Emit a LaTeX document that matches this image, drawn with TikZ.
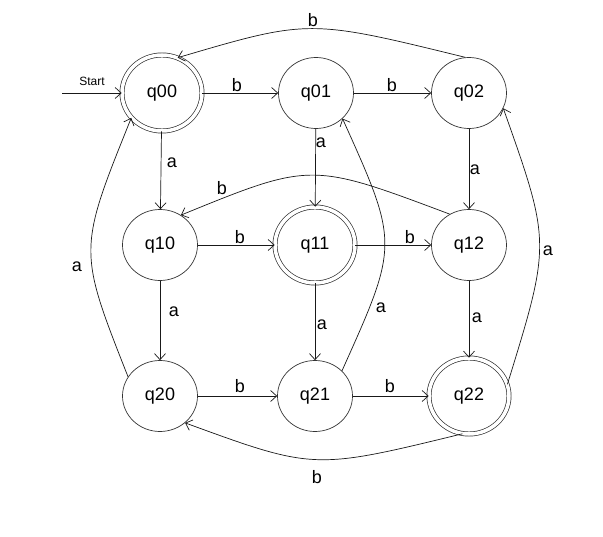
\documentclass[tikz,border=0pt]{standalone}
\usepackage{fontspec}
\setmainfont{Liberation Sans}
\usetikzlibrary{arrows.meta,shapes.geometric}
\begin{document}
\begin{tikzpicture}[x=1pt,y=-1pt,
  state/.style={ellipse,draw=black!80,line width=0.7pt,minimum width=75pt,minimum height=71pt,inner sep=0pt,font=\fontsize{18}{20}\selectfont},
  accept/.style={state,double=white,double distance=3.5pt,minimum width=80pt,minimum height=76pt},
  edge/.style={draw=black!90,line width=0.7pt,-{Straight Barb[length=6pt,width=11pt]}},
  lbl/.style={font=\fontsize{18}{20}\selectfont,inner sep=0pt}]
\useasboundingbox (0,0) rectangle (603,537);
\node[accept] (q00) at (162,93) {q00};
\node[state]  (q01) at (316,93) {q01};
\node[state]  (q02) at (469,93) {q02};
\node[state]  (q10) at (160,245) {q10};
\node[accept] (q11) at (315,245) {q11};
\node[state]  (q12) at (469,245) {q12};
\node[state]  (q20) at (160,396) {q20};
\node[state]  (q21) at (315,396) {q21};
\node[accept] (q22) at (469,396) {q22};
\coordinate (s) at (62,93);
\node[font=\fontsize{12}{14}\selectfont,inner sep=0pt] (st) at (92,81) {Start};
\draw[edge] (s) -- (q00);
% straight
\draw[edge] (q00) -- (q01);
\draw[edge] (q01) -- (q02);
\draw[edge] (q10) -- (q11);
\draw[edge] (q11) -- (q12);
\draw[edge] (q20) -- (q21);
\draw[edge] (q21) -- (q22);
\draw[edge] (q00) -- (q10);
\draw[edge] (q10) -- (q20);
\draw[edge] (q01) -- (q11);
\draw[edge] (q11) -- (q21);
\draw[edge] (q02) -- (q12);
\draw[edge] (q12) -- (q22);
% curves
\draw[edge] (q02.96) .. controls (309,19) .. (q00.66);
\draw[edge] (q12.122) .. controls (311,162) .. (q10.55);
\draw[edge] (q21.43) .. controls (399,244) .. (q01.-44);
\draw[edge] (q20.149) .. controls (78,250) .. (q00.-141);
\draw[edge] (q22.17) .. controls (551,243) .. (q02.-24);
\draw[edge] (q22.-100) .. controls (314,470) .. (q20.-47);
% labels
\node[lbl] (l1) at (313,20) {b};
\node[lbl] (l2) at (237,85) {b};
\node[lbl] (l3) at (392,85) {b};
\node[lbl] (l4) at (172,163) {a};
\node[lbl] (l5) at (321,143) {a};
\node[lbl] (l6) at (475,170) {a};
\node[lbl] (l7) at (222,188) {b};
\node[lbl] (l8) at (240,237) {b};
\node[lbl] (l9) at (410,237) {b};
\node[lbl] (l10) at (77,267) {a};
\node[lbl] (l11) at (174,312) {a};
\node[lbl] (l12) at (322,325) {a};
\node[lbl] (l13) at (381,308) {a};
\node[lbl] (l14) at (477,318) {a};
\node[lbl] (l15) at (548,251) {a};
\node[lbl] (l16) at (240,386) {b};
\node[lbl] (l17) at (390,386) {b};
\node[lbl] (l18) at (317,477) {b};
\end{tikzpicture}
\end{document}
